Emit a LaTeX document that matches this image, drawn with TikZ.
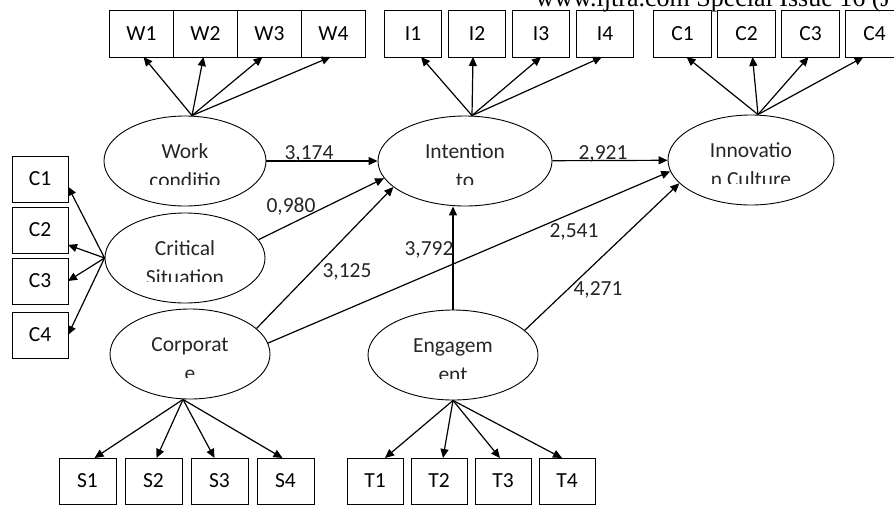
\documentclass[tikz,border=0pt]{standalone}
\usepackage{fontspec}
\setmainfont{Carlito}
\newfontfamily\hdrfont{Liberation Serif}
\usetikzlibrary{shapes.geometric,positioning,arrows.meta,calc}

\begin{document}
\begin{tikzpicture}[x=1pt,y=-1pt,
        font=\fontsize{21.5}{26}\selectfont,
        ind/.style={rectangle,draw,line width=1pt,minimum width=57,minimum height=47,inner sep=0,outer sep=0},
        lat/.style={ellipse,draw,line width=0.9pt,minimum width=162,minimum height=90,inner sep=0},
        arr/.style={-{Triangle[length=9pt,width=8pt]},line width=1.2pt},
        coef/.style={anchor=base,text=black!85}]

        \clip (0,0) rectangle (894,506);

        \node[font=\hdrfont\fontsize{26}{30}\selectfont,anchor=base west] (hdr) at (532,6) {www.ijtra.com Special Issue 16 (J};

        % top row of indicators
        \node[ind,minimum width=64] (w1) at (141.5,33.5) {W1};
        \node[ind,minimum width=64,right=0pt of w1] (w2) {W2};
        \node[ind,minimum width=64,right=0pt of w2] (w3) {W3};
        \node[ind,minimum width=64,right=0pt of w3] (w4) {W4};

        \node[ind,minimum width=56.5] (i1) at (413,33.5) {I1};
        \node[ind,minimum width=56.5,right=7.5pt of i1] (i2) {I2};
        \node[ind,minimum width=56.5,right=7.5pt of i2] (i3) {I3};
        \node[ind,minimum width=56.5,right=7.5pt of i3] (i4) {I4};

        \node[ind,minimum width=57.5] (c1) at (682.5,33.5) {C1};
        \node[ind,minimum width=57.5,right=6.5pt of c1] (c2) {C2};
        \node[ind,minimum width=57.5,right=6.5pt of c2] (c3) {C3};
        \node[ind,minimum width=57.5,right=6.5pt of c3] (c4) {C4};

        % left column
        \node[ind,minimum width=56,minimum height=46] (sc1) at (40,179) {C1};
        \node[ind,minimum width=56,minimum height=46,below=5pt of sc1] (sc2) {C2};
        \node[ind,minimum width=56,minimum height=46,below=5pt of sc2] (sc3) {C3};
        \node[ind,minimum width=56,minimum height=46,below=8pt of sc3] (sc4) {C4};

        % bottom row
        \node[ind,minimum height=46] (s1) at (87.5,481) {S1};
        \node[ind,minimum height=46,right=9pt of s1] (s2) {S2};
        \node[ind,minimum height=46,right=9pt of s2] (s3) {S3};
        \node[ind,minimum height=46,right=9pt of s3] (s4) {S4};

        \node[ind,minimum width=56,minimum height=46] (t1) at (375,481) {T1};
        \node[ind,minimum width=56,minimum height=46,right=8pt of t1] (t2) {T2};
        \node[ind,minimum width=56,minimum height=46,right=8pt of t2] (t3) {T3};
        \node[ind,minimum width=56,minimum height=46,right=8pt of t3] (t4) {T4};

        % latent variables
        \node[lat] (work) at (185,161) {};
        \node[lat,minimum width=160] (crit) at (185,258) {};
        \node[lat,minimum width=160] (corp) at (190,354) {};
        \node[lat,minimum width=174] (intent) at (465,161) {};
        \node[lat,minimum width=170] (eng) at (453,355) {};
        \node[lat,minimum width=166] (innov) at (751,160) {};

        \foreach \n/\a/\b in {work/Work/conditio,crit/Critical/Situation,corp/Corporat/e,
                intent/Intention/to,eng/Engagem/ent,innov/Innovatio/n Culture}{
            \begin{scope}
                \clip ($(\n)+(-80,-40)$) rectangle ($(\n)+(80,23)$);
                \node[coef] (\n-1) at ($(\n)+(0,-3)$) {\a};
                \node[coef] (\n-2) at ($(\n)+(0,26)$) {\b};
            \end{scope}
        }

        % loadings
        \foreach \t/\dx in {w1/2,w2/-2,w3/-7,w4/-3}
            \draw[arr] ([xshift=7pt]work.north) -- ([xshift=\dx pt]\t.south);
        \foreach \t/\dx in {i1/8,i2/-4,i3/0,i4/-3}
            \draw[arr] ([xshift=7pt]intent.north) -- ([xshift=\dx pt]\t.south);
        \foreach \t/\dx in {c1/4,c2/6,c3/-2,c4/-11}
            \draw[arr] ([xshift=7pt]innov.north) -- ([xshift=\dx pt]\t.south);
        \foreach \t/\dx in {s1/7,s2/3,s3/-5,s4/-3}
            \draw[arr] ([xshift=-7pt]corp.south) -- ([xshift=\dx pt]\t.north);
        \foreach \t/\dx in {t1/10,t2/4,t3/-3,t4/-5}
            \draw[arr] (eng.south) -- ([xshift=\dx pt]\t.north);
        \draw[arr] (crit.west) -- (sc1.-15);
        \draw[arr] (crit.west) -- (sc2.-28);
        \draw[arr] (crit.west) -- (sc3.east);
        \draw[arr] (crit.west) -- (sc4.east);

        % paths
        \draw[arr] (work) -- (intent);
        \draw[arr] (intent) -- (innov);
        \draw[arr] (crit.14) -- (intent.192);
        \draw[arr] (corp.21) -- (intent.200);
        \draw[arr] (corp.8) -- (innov.188);
        \draw[arr] (eng.north) -- (eng.north |- intent.south);
        \draw[arr] (eng.19) -- (innov.198);

        \node[coef] (p1) at (309,159) {3,174};
        \node[coef] (p2) at (603,159) {2,921};
        \node[coef] (p3) at (291,212) {0,980};
        \node[coef] (p4) at (347,277) {3,125};
        \node[coef] (p5) at (429,255) {3,792};
        \node[coef] (p6) at (574,237) {2,541};
        \node[coef] (p7) at (598,295) {4,271};
\end{tikzpicture}
\end{document}
